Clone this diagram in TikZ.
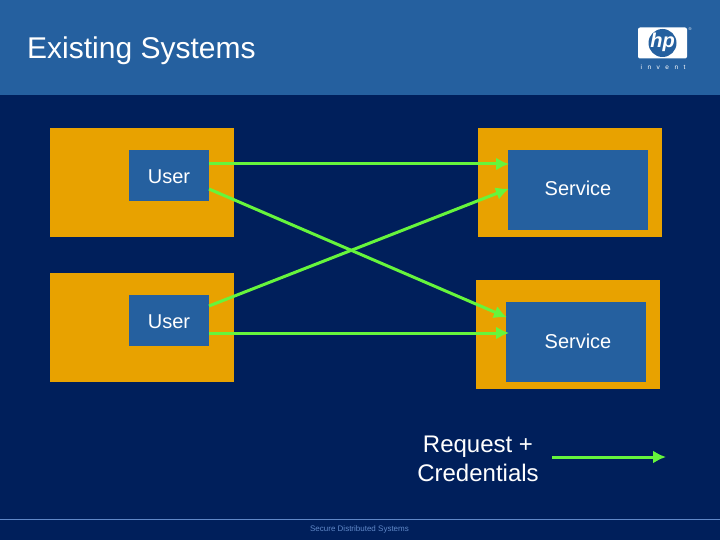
\documentclass[tikz,border=0pt]{standalone}
\usepackage{fontspec}
\setmainfont{Liberation Sans}
\usetikzlibrary{arrows.meta}
\definecolor{slidebg}{HTML}{001F5B}
\definecolor{bandblue}{HTML}{25609F}
\definecolor{boxorange}{HTML}{E8A200}
\definecolor{arrowgreen}{HTML}{66F53C}
\definecolor{footblue}{HTML}{6088C8}
\tikzstyle{outerbox} = [rectangle, fill=boxorange, minimum width=184pt, minimum height=109pt, inner sep=0pt, outer sep=0pt]
\tikzstyle{userbox} = [rectangle, fill=bandblue, minimum width=80pt, minimum height=51pt, inner sep=0pt, outer sep=0pt, text=white, text height=17pt, font=\fontsize{20}{24}\selectfont]
\tikzstyle{servicebox} = [rectangle, fill=bandblue, minimum width=140pt, minimum height=80pt, inner sep=0pt, outer sep=0pt, text=white, font=\fontsize{20}{24}\selectfont]
\tikzstyle{clean} = [inner sep=0pt, text=white]
\tikzstyle{arrow} = [arrowgreen, line width=3pt, -{Latex[length=13pt,width=13pt]}, shorten >=-1pt]

\begin{document}
\begin{tikzpicture}[x=1pt,y=-1pt]
\useasboundingbox (0,0) rectangle (720,540);
\fill[slidebg] (0,0) rectangle (720,540);
\fill[bandblue] (0,0) rectangle (720,95);
\draw[footblue, line width=0.8pt] (0,519.5) -- (720,519.5);

\node (title) [clean, anchor=base west, font=\fontsize{30}{36}\selectfont] at (27,59) {Existing Systems};

% logo
\node (logo) [rectangle, rounded corners=2pt, fill=white, minimum width=49pt, minimum height=31pt, inner sep=0pt] at (662.5,43) {};
\node (hpdisc) [circle, fill=bandblue, minimum size=28pt, inner sep=0pt] at (662.5,43) {};
\node (hp) [clean, font=\fontsize{20}{20}\bfseries\itshape\selectfont] at (662.5,42) {hp};
\node (regmark) [clean, font=\fontsize{4}{4}\selectfont] at (690,29) {®};
\node (invent) [clean, font=\fontsize{6.5}{6.5}\selectfont] at (663,67) {i\hspace{5.5pt}n\hspace{5.5pt}v\hspace{5.5pt}e\hspace{5.5pt}n\hspace{5.5pt}t};

\node (hostA) [outerbox] at (142,182.5) {};
\node (hostB) [outerbox] at (142,327.5) {};
\node (hostC) [outerbox] at (570,182.5) {};
\node (hostD) [outerbox] at (568,334.5) {};

\node (userA) [userbox] at (169,175.5) {User};
\node (userB) [userbox] at (169,320.5) {User};
\node (serviceA) [servicebox, text depth=4pt] at (578,190) {Service};
\node (serviceB) [servicebox] at (576,342) {};
\node (serviceBtext) [clean, font=\fontsize{20}{24}\selectfont] at (578,341) {Service};

\coordinate (userAtop) at (209,164);
\coordinate (userAlow) at (209,189);
\coordinate (userBtop) at (209,306);
\coordinate (userBlow) at (209,333);
\coordinate (serviceAtop) at (508,164);
\coordinate (serviceAlow) at (508,189);
\coordinate (serviceBtop) at (506,317);
\coordinate (serviceBlow) at (508,333);
\draw [arrow] (userAtop) -- (serviceAtop);
\draw [arrow] (userAlow) -- (serviceBtop);
\draw [arrow] (userBtop) -- (serviceAlow);
\draw [arrow] (userBlow) -- (serviceBlow);

\node (request) [clean, align=center, font=\fontsize{24}{28.5}\selectfont] at (478,459) {Request +\\Credentials};
\coordinate (legendstart) at (552,457);
\coordinate (legendend) at (665,457);
\draw [arrow] (legendstart) -- (legendend);

\node (footer) [clean, text=footblue, font=\fontsize{8}{8}\selectfont] at (359.5,529) {Secure Distributed Systems};
\end{tikzpicture}
\end{document}
